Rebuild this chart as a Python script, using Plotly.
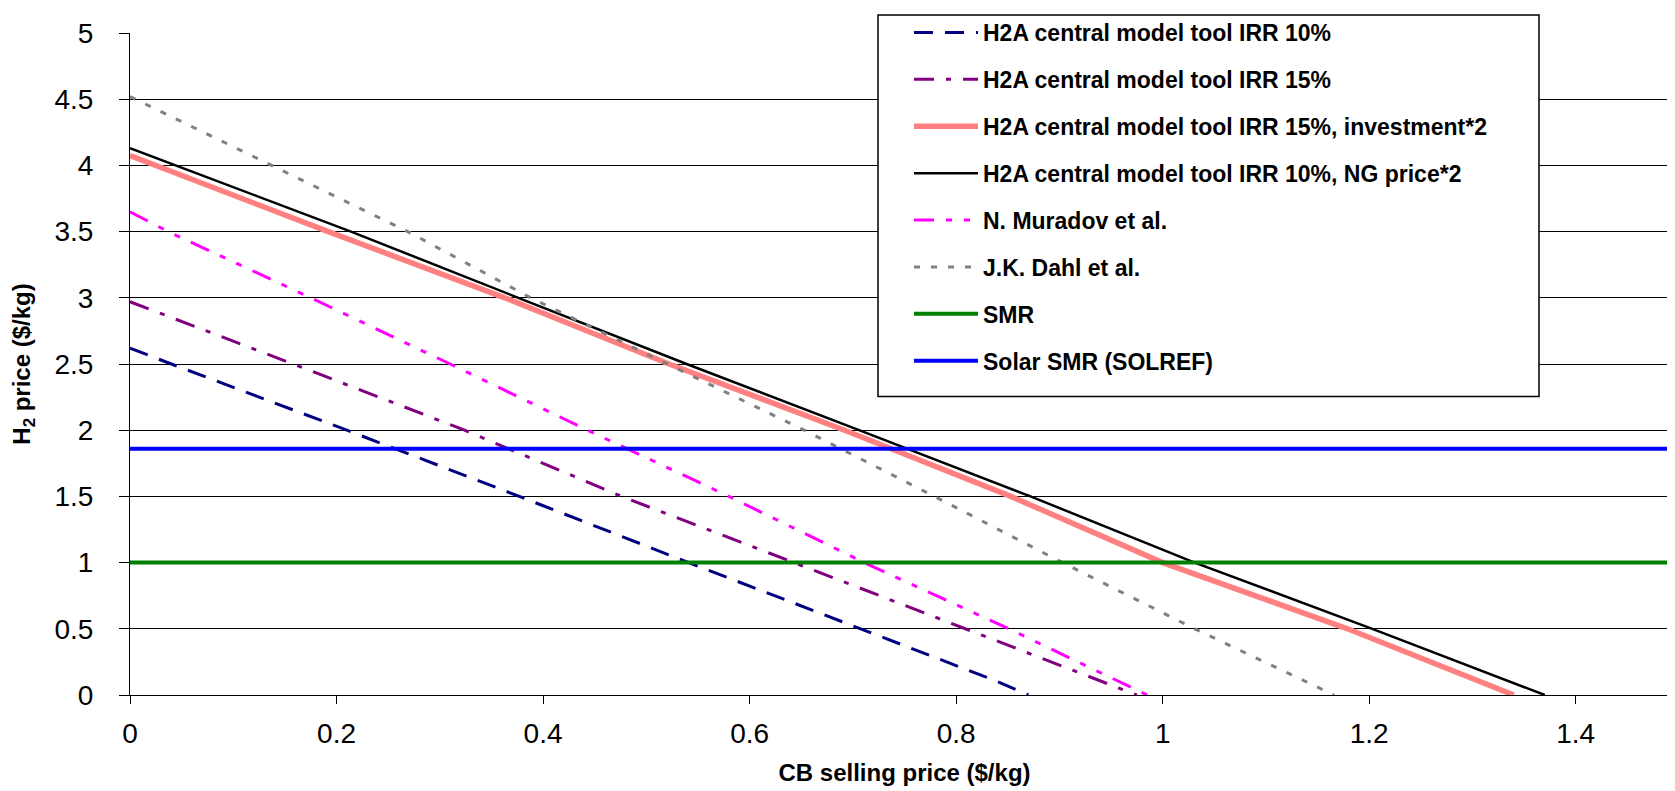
import plotly.graph_objects as go

# ---- data ----
irr10_x = [0, 0.04, 0.21, 0.377, 0.541, 0.708, 0.839, 0.87]
irr10_y = [2.62, 2.5, 2.0, 1.5, 1.0, 0.5, 0.105, 0]

irr15_x = [0, 0.158, 0.324, 0.476, 0.643, 0.81, 0.975]
irr15_y = [2.97, 2.5, 2.0, 1.5, 1.0, 0.5, 0]

inv2_x = [0, 0.192, 0.363, 0.522, 0.692, 0.853, 1.0, 1.179, 1.34]
inv2_y = [4.075, 3.5, 3.0, 2.5, 2.0, 1.5, 1.0, 0.5, 0]

ng2_x = [0, 0.214, 0.376, 0.539, 0.706, 0.872, 1.031, 1.203, 1.37]
ng2_y = [4.13, 3.5, 3.0, 2.5, 2.0, 1.5, 1.0, 0.5, 0]

muradov_x = [0, 0.037, 0.175, 0.31, 0.443, 0.58, 0.711, 0.851, 0.985]
muradov_y = [3.65, 3.5, 3.0, 2.5, 2.0, 1.5, 1.0, 0.5, 0]

dahl_x = [0, 0.137, 0.269, 0.388, 0.521, 0.653, 0.779, 0.903, 1.031, 1.166]
dahl_y = [4.52, 4.0, 3.5, 3.0, 2.5, 2.0, 1.5, 1.0, 0.5, 0]

smr_x = [0, 1.5]
smr_y = [1.0, 1.0]

solref_x = [0, 1.5]
solref_y = [1.86, 1.86]

names = [
    "H2A central model tool IRR 10%",
    "H2A central model tool IRR 15%",
    "H2A central model tool IRR 15%, investment*2",
    "H2A central model tool IRR 10%, NG price*2",
    "N. Muradov et al.",
    "J.K. Dahl et al.",
    "SMR",
    "Solar SMR (SOLREF)",
]

series = [
    (irr10_x, irr10_y, dict(color="#000080", width=3, dash="19px,12px")),
    (irr15_x, irr15_y, dict(color="#800080", width=3, dash="20px,12px,5px,12px")),
    (inv2_x, inv2_y, dict(color="#FF8080", width=5.5)),
    (ng2_x, ng2_y, dict(color="#000000", width=2.5)),
    (muradov_x, muradov_y, dict(color="#FF00FF", width=3, dash="20px,12px,6px,12px,6px,12px")),
    (dahl_x, dahl_y, dict(color="#808080", width=3, dash="6px,11px")),
    (smr_x, smr_y, dict(color="#008000", width=4)),
    (solref_x, solref_y, dict(color="#0000FF", width=4)),
]

FONT = "Liberation Sans, Arial, sans-serif"

fig = go.Figure()
for i, ((x, y, ln), nm) in enumerate(zip(series, names)):
    fig.add_trace(go.Scatter(x=x, y=y, mode="lines", name=nm, line=ln,
                             legendgroup=f"g{i}"))

W, H = 1675, 791
L, R, T, B = 122, 4, 24, 104
pw, ph = W - L - R, H - T - B

def px_x(p):
    return (p - L) / pw

def px_y(p):
    return (H - B - p) / ph

fig.update_layout(
    width=W, height=H,
    margin=dict(l=L, r=R, t=T, b=B),
    paper_bgcolor="white", plot_bgcolor="white",
    font=dict(family=FONT, color="black"),
    showlegend=True,
    legend=dict(
        x=px_x(901), y=px_y(3), xanchor="left", yanchor="top",
        bgcolor="rgba(0,0,0,0)", borderwidth=0,
        font=dict(family=FONT, size=23, color="black", weight="bold"),
        itemwidth=64, tracegroupgap=14, traceorder="grouped",
    ),
    xaxis=dict(
        range=[0, 1.5], dtick=0.2, tick0=0,
        showgrid=False, zeroline=False,
        showline=True, linecolor="black", linewidth=1,
        ticks="outside", ticklen=8, tickcolor="black", tickwidth=1,
        tickfont=dict(family=FONT, size=28, color="black"),
        ticklabelstandoff=5,
        title=dict(text="CB selling price ($/kg)", standoff=16,
                   font=dict(family=FONT, size=24, color="black", weight="bold")),
    ),
    yaxis=dict(
        range=[0, 5], dtick=0.5, tick0=0,
        showgrid=True, gridcolor="black", gridwidth=1,
        zeroline=False,
        showline=True, linecolor="black", linewidth=1,
        ticks="outside", ticklen=10, tickcolor="black", tickwidth=1,
        tickfont=dict(family=FONT, size=28, color="black"),
        ticklabelstandoff=20,
        title=dict(text="H<sub>2</sub> price ($/kg)", standoff=18,
                   font=dict(family=FONT, size=24, color="black", weight="bold")),
    ),
    shapes=[dict(type="rect", xref="paper", yref="paper",
                 x0=px_x(870), x1=px_x(1531), y0=px_y(388), y1=px_y(6),
                 line=dict(color="black", width=1.5), fillcolor="white",
                 layer="above")],
)

fig.write_html("out.html")
